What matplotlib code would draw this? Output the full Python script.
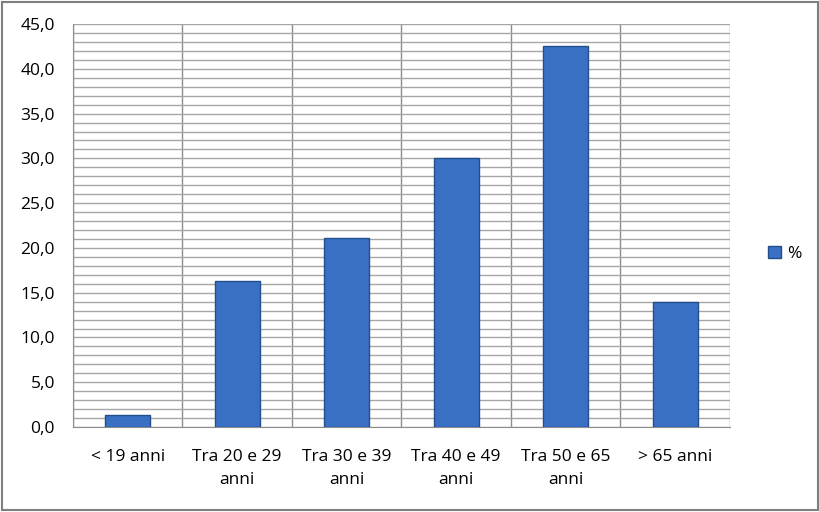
import numpy as np
import matplotlib.pyplot as plt
from matplotlib.patches import Rectangle
from matplotlib.ticker import MultipleLocator, FuncFormatter

categories = ["< 19 anni", "Tra 20 e 29\nanni", "Tra 30 e 39\nanni",
              "Tra 40 e 49\nanni", "Tra 50 e 65\nanni", "> 65 anni"]
values = [1.3, 16.3, 21.1, 30.0, 42.6, 14.0]
series_name = "%"

plt.rcParams['font.family'] = ['Open Sans', 'DejaVu Sans']

fig = plt.figure(figsize=(8.2, 5.12), dpi=100)
ax = fig.add_axes([0.089, 0.166, 0.801, 0.787])

x = np.arange(len(categories))
ax.bar(x, values, width=0.41, color='#3A70C4', edgecolor='#234E8C',
       linewidth=1.0, label=series_name, zorder=3)

ax.set_xlim(-0.5, len(categories) - 0.5)
ax.set_ylim(0, 45)
ax.yaxis.set_major_locator(MultipleLocator(5))
ax.yaxis.set_minor_locator(MultipleLocator(1))
ax.yaxis.set_major_formatter(FuncFormatter(lambda v, p: f"{v:.1f}".replace(".", ",")))
ax.grid(axis='y', which='both', color='#A6A6A6', linewidth=1.0, zorder=0)

# vertical lines between categories
ax.set_xticks(x)
ax.set_xticklabels(categories, fontsize=12.5, linespacing=1.55, va='top')
ax.set_xticks(np.arange(-0.5, len(categories)), minor=True)
ax.grid(axis='x', which='minor', color='#8C8C8C', linewidth=1.0, zorder=0)
ax.tick_params(axis='x', which='both', length=0, pad=16)
ax.tick_params(axis='y', which='both', length=0, labelsize=12.5, pad=13)

for side in ['top', 'right']:
    ax.spines[side].set_visible(False)
ax.spines['left'].set_color('#8C8C8C')
ax.spines['bottom'].set_color('#8C8C8C')

ax.legend(loc='center left', bbox_to_anchor=(1.035, 0.43), frameon=False,
          fontsize=12.5, handlelength=0.7, handleheight=0.7, handletextpad=0.4)

fig.patches.append(Rectangle((0.003, 0.004), 0.994, 0.992, transform=fig.transFigure,
                             fill=False, edgecolor='#7F7F7F', linewidth=1.5))

fig.savefig("out.png", dpi=100)
